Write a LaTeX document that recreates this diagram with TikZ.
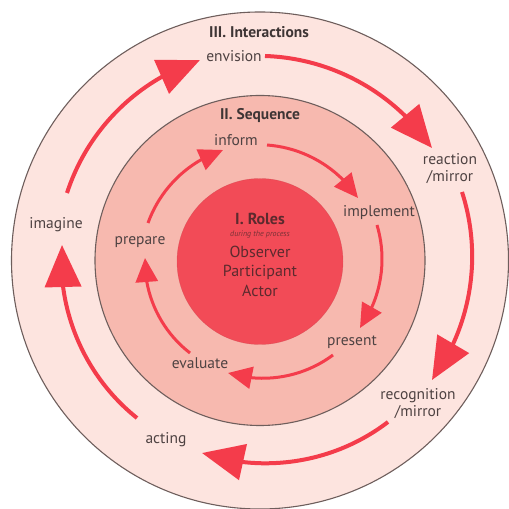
\documentclass[tikz,border=0pt]{standalone}
\usepackage{fontspec}
\setmainfont{PT Sans}
\usetikzlibrary{arrows.meta,bending}

\definecolor{ringout}{HTML}{FDE4DF}
\definecolor{ringmid}{HTML}{F7B9AF}
\definecolor{corefill}{HTML}{F24B57}
\definecolor{arrowred}{HTML}{F43C4B}
\definecolor{edgegray}{HTML}{6E5E5C}
\definecolor{labelgray}{HTML}{4E4242}
\definecolor{coretext}{HTML}{5C2A2E}

\tikzset{
  ring/.style={draw=edgegray, line width=1.1pt},
  lbl/.style={text=labelgray, font=\fontsize{15.5}{17}\selectfont, align=center, inner sep=0pt},
  title/.style={text=labelgray!80!black, font=\fontsize{15.5}{17}\selectfont\bfseries, inner sep=0pt},
  corelbl/.style={text=coretext, font=\fontsize{16}{18}\selectfont, inner sep=0pt},
  bigarrow/.style={draw=arrowred, line width=4pt, -{Triangle[length=42pt,width=36pt,flex]}},
  smallarrow/.style={draw=arrowred, line width=3pt, -{Triangle[length=24pt,width=22pt,flex]}},
}

\begin{document}
\begin{tikzpicture}[x=1pt,y=1pt]
  \useasboundingbox (0,0) rectangle (509,509);
  \fill[white] (0,0) rectangle (509,509);

  % concentric discs
  \coordinate (C) at (260,248.5);
  \draw[ring, fill=ringout] (C) circle[radius=248.5];
  \draw[ring, fill=ringmid] (C) circle[radius=165];
  \fill[corefill] (260,247.5) circle[radius=83];
  \draw[corefill!85!black, line width=0.4pt, opacity=0.5] (260,247.5) circle[radius=83];

  % ring titles
  \node[title] (tIII) at (259,477) {III. Interactions};
  \node[title] (tII)  at (260,393) {II. Sequence};

  % core
  \node[corelbl, font=\fontsize{16}{18}\selectfont\bfseries] (tI) at (260,290) {I. Roles};
  \node[text=coretext!80!corefill, font=\fontsize{8}{9}\selectfont\itshape, inner sep=0pt] (during) at (260,274) {during the process};
  \node[corelbl] (obs) at (260,257) {Observer};
  \node[corelbl] (par) at (260,237) {Participant};
  \node[corelbl] (act) at (260,218) {Actor};

  % outer ring stages
  \node[lbl] (envision)    at (234,453) {envision};
  \node[lbl] (reaction)    at (450,340) {reaction\\/mirror};
  \node[lbl] (recognition) at (418,105) {recognition\\/mirror};
  \node[lbl] (acting)      at (166,69)  {acting};
  \node[lbl] (imagine)     at (56,284)  {imagine};

  % inner ring stages
  \node[lbl] (inform)    at (236,369) {inform};
  \node[lbl] (implement) at (379,296) {implement};
  \node[lbl] (present)   at (352,167) {present};
  \node[lbl] (evaluate)  at (200,146) {evaluate};
  \node[lbl] (prepare)   at (140,267) {prepare};

  % arrow end points, outer ring
  \coordinate (o1s) at (67,316);  \coordinate (o1e) at (200,449);
  \coordinate (o2s) at (265,453); \coordinate (o2e) at (432,361);
  \coordinate (o3s) at (462,317); \coordinate (o3e) at (432,129);
  \coordinate (o4s) at (388,87);  \coordinate (o4e) at (202,56);
  \coordinate (o5s) at (137,91);  \coordinate (o5e) at (62,264);

  % arrow end points, inner ring
  \coordinate (i1s) at (148,286); \coordinate (i1e) at (223,359);
  \coordinate (i2s) at (267,364); \coordinate (i2e) at (358,311);
  \coordinate (i3s) at (377,284); \coordinate (i3e) at (360,181);
  \coordinate (i4s) at (333,154); \coordinate (i4e) at (228,136);
  \coordinate (i5s) at (190,156); \coordinate (i5e) at (145,251);

  % outer cycle
  \draw[bigarrow] (o1s) to[bend left=27, looseness=0.9] (o1e);
  \draw[bigarrow] (o2s) to[bend left=27, looseness=0.9] (o2e);
  \draw[bigarrow] (o3s) to[bend left=27, looseness=0.9] (o3e);
  \draw[bigarrow] (o4s) to[bend left=28, looseness=0.9] (o4e);
  \draw[bigarrow] (o5s) to[bend left=28, looseness=0.9] (o5e);

  % inner cycle
  \draw[smallarrow] (i1s) to[bend left=26, looseness=0.9] (i1e);
  \draw[smallarrow] (i2s) to[bend left=26, looseness=0.9] (i2e);
  \draw[smallarrow] (i3s) to[bend left=26, looseness=0.9] (i3e);
  \draw[smallarrow] (i4s) to[bend left=27, looseness=0.9] (i4e);
  \draw[smallarrow] (i5s) to[bend left=27, looseness=0.9] (i5e);
\end{tikzpicture}
\end{document}
